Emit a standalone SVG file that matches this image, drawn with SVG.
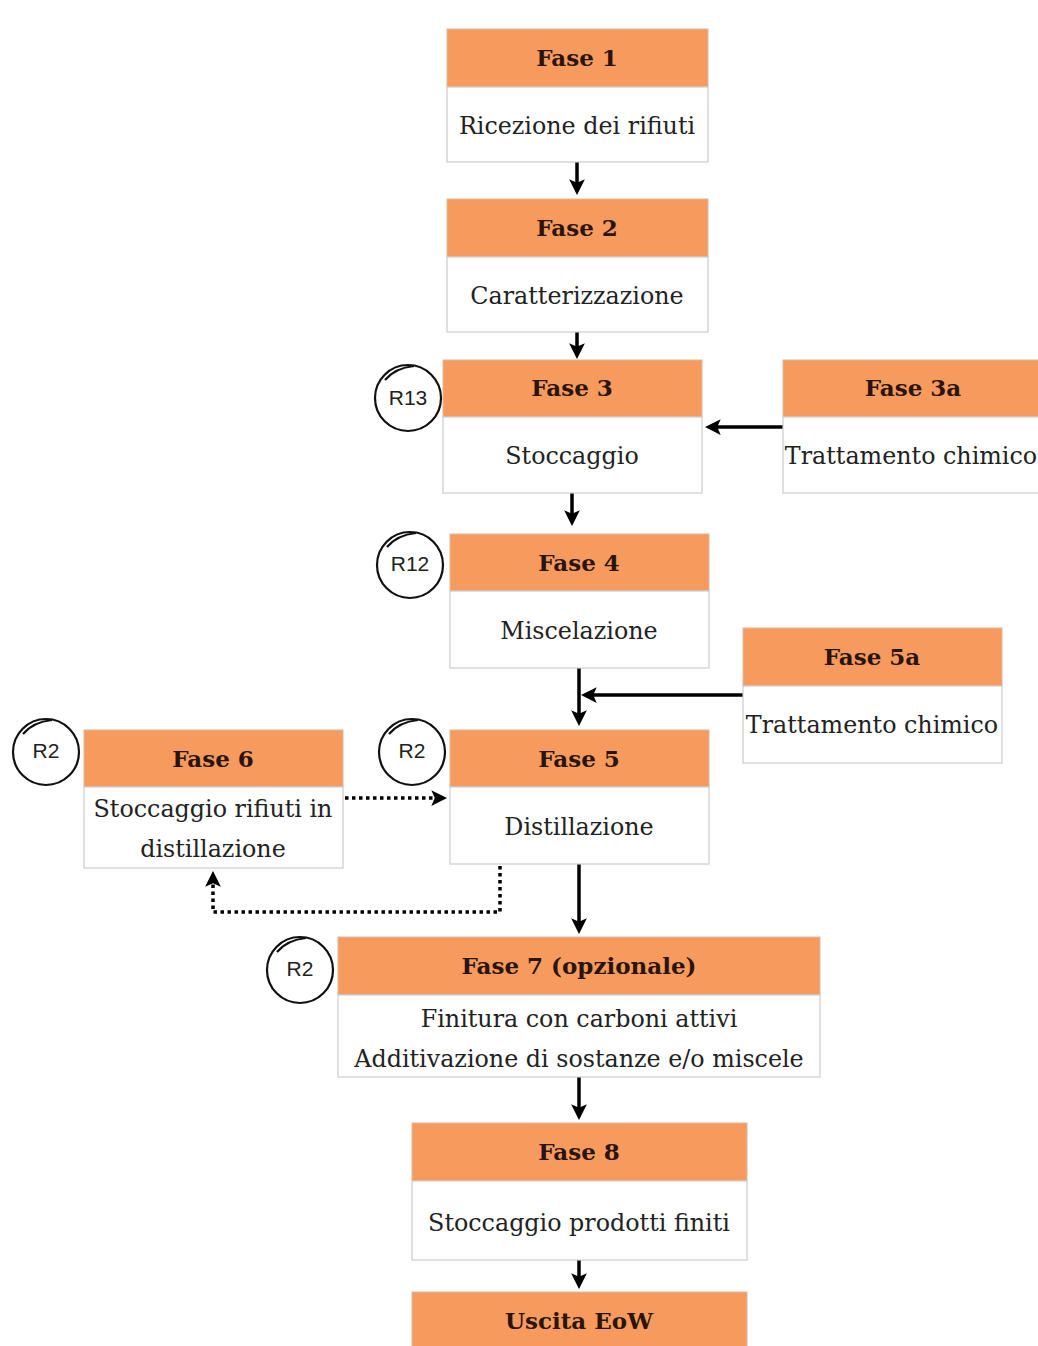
<svg xmlns="http://www.w3.org/2000/svg" width="1038" height="1346" viewBox="0 0 1038 1346">
<style>
.hd{fill:#F79A5E;stroke:#D9B9A0;stroke-width:1}
.bd{fill:#fff;stroke:#CCCCCC;stroke-width:1.2}
.ht{font-family:"DejaVu Serif",serif;font-weight:bold;font-size:23px;fill:#2A150C;text-anchor:middle}
.bt{font-family:"DejaVu Serif",serif;font-size:23.8px;fill:#222;text-anchor:middle}
.rc{fill:none;stroke:#111;stroke-width:2.2}
.rt{font-family:"Liberation Sans",sans-serif;font-size:21px;fill:#222;text-anchor:middle}
.ln{fill:none;stroke:#000;stroke-width:3.5}
.dt{fill:none;stroke:#000;stroke-width:3.5;stroke-dasharray:3.5 3.5}
</style>
<defs>
<marker id="ah" markerWidth="4.5" markerHeight="4.5" refX="2.2" refY="2.25" orient="auto" markerUnits="strokeWidth">
<path d="M0,0 L4.5,2.25 L0,4.5 L1,2.25 Z" fill="#000"/>
</marker>
</defs>
<rect width="1038" height="1346" fill="#fff"/>
<g id="connectors">
<line class="ln" x1="577" y1="162" x2="577" y2="187" marker-end="url(#ah)"/>
<line class="ln" x1="577" y1="332" x2="577" y2="351" marker-end="url(#ah)"/>
<line class="ln" x1="572" y1="493" x2="572" y2="518" marker-end="url(#ah)"/>
<line class="ln" x1="783" y1="427" x2="713" y2="427" marker-end="url(#ah)"/>
<line class="ln" x1="579" y1="668" x2="579" y2="718" marker-end="url(#ah)"/>
<line class="ln" x1="743" y1="695" x2="589" y2="695" marker-end="url(#ah)"/>
<line class="ln" x1="579" y1="864" x2="579" y2="926" marker-end="url(#ah)"/>
<line class="ln" x1="579" y1="1077" x2="579" y2="1112" marker-end="url(#ah)"/>
<line class="ln" x1="579" y1="1260" x2="579" y2="1281" marker-end="url(#ah)"/>
<line class="dt" x1="345" y1="798" x2="439" y2="798" marker-end="url(#ah)"/>
<polyline class="dt" points="500,866 500,912 213,912 213,879" marker-end="url(#ah)"/>
</g>
<g id="fase1">
<rect class="hd" x="447" y="29" width="261" height="58"/>
<rect class="bd" x="447" y="87" width="261" height="75"/>
<text class="ht" x="577" y="66">Fase 1</text>
<text class="bt" x="577" y="134">Ricezione dei rifiuti</text>
</g>
<g id="fase2">
<rect class="hd" x="447" y="199" width="261" height="58"/>
<rect class="bd" x="447" y="257" width="261" height="75"/>
<text class="ht" x="577" y="236">Fase 2</text>
<text class="bt" x="577" y="304">Caratterizzazione</text>
</g>
<g id="fase3">
<rect class="hd" x="443" y="360" width="259" height="57"/>
<rect class="bd" x="443" y="417" width="259" height="76"/>
<text class="ht" x="572" y="396">Fase 3</text>
<text class="bt" x="572" y="464">Stoccaggio</text>
<circle class="rc" cx="408" cy="398" r="33"/>
<path class="rc" d="M385,380 Q395,368 414,366"/>
<text class="rt" x="408" y="405">R13</text>
</g>
<g id="fase3a">
<rect class="hd" x="783" y="360" width="260" height="57"/>
<rect class="bd" x="783" y="417" width="260" height="76"/>
<text class="ht" x="913" y="396">Fase 3a</text>
<text class="bt" x="911" y="464">Trattamento chimico</text>
</g>
<g id="fase4">
<rect class="hd" x="450" y="534" width="259" height="57"/>
<rect class="bd" x="450" y="591" width="259" height="77"/>
<text class="ht" x="579" y="571">Fase 4</text>
<text class="bt" x="579" y="639">Miscelazione</text>
<circle class="rc" cx="410" cy="565" r="33"/>
<path class="rc" d="M387,547 Q397,535 416,533"/>
<text class="rt" x="410" y="571">R12</text>
</g>
<g id="fase5a">
<rect class="hd" x="743" y="628" width="259" height="58"/>
<rect class="bd" x="743" y="686" width="259" height="77"/>
<text class="ht" x="872" y="665">Fase 5a</text>
<text class="bt" x="872" y="733">Trattamento chimico</text>
</g>
<g id="fase5">
<rect class="hd" x="450" y="730" width="259" height="57"/>
<rect class="bd" x="450" y="787" width="259" height="77"/>
<text class="ht" x="579" y="767">Fase 5</text>
<text class="bt" x="579" y="835">Distillazione</text>
<circle class="rc" cx="412" cy="752" r="33"/>
<path class="rc" d="M389,734 Q399,722 418,720"/>
<text class="rt" x="412" y="758">R2</text>
</g>
<g id="fase6">
<rect class="hd" x="84" y="730" width="259" height="57"/>
<rect class="bd" x="84" y="787" width="259" height="81"/>
<text class="ht" x="213" y="767">Fase 6</text>
<text class="bt" x="213" y="817">Stoccaggio rifiuti in</text>
<text class="bt" x="213" y="857">distillazione</text>
<circle class="rc" cx="46" cy="752" r="33"/>
<path class="rc" d="M23,734 Q33,722 52,720"/>
<text class="rt" x="46" y="758">R2</text>
</g>
<g id="fase7">
<rect class="hd" x="338" y="937" width="482" height="58"/>
<rect class="bd" x="338" y="995" width="482" height="82"/>
<text class="ht" x="579" y="974">Fase 7 (opzionale)</text>
<text class="bt" x="579" y="1027">Finitura con carboni attivi</text>
<text class="bt" x="579" y="1067">Additivazione di sostanze e/o miscele</text>
<circle class="rc" cx="300" cy="970" r="33"/>
<path class="rc" d="M277,952 Q287,940 306,938"/>
<text class="rt" x="300" y="976">R2</text>
</g>
<g id="fase8">
<rect class="hd" x="412" y="1123" width="335" height="58"/>
<rect class="bd" x="412" y="1181" width="335" height="79"/>
<text class="ht" x="579" y="1160">Fase 8</text>
<text class="bt" x="579" y="1231">Stoccaggio prodotti finiti</text>
</g>
<g id="uscita">
<rect class="hd" x="412" y="1292" width="335" height="60"/>
<text class="ht" x="579" y="1329">Uscita EoW</text>
</g>
</svg>
